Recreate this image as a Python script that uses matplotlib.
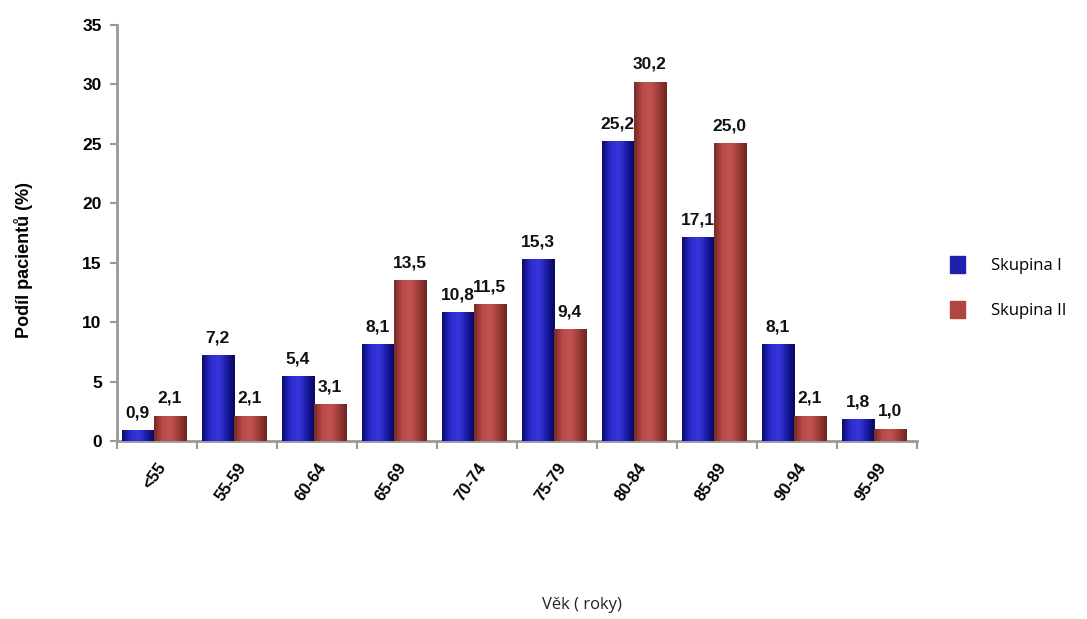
import numpy as np
import matplotlib
matplotlib.use("Agg")
import matplotlib.pyplot as plt
from matplotlib.colors import LinearSegmentedColormap

categories = ["<55", "55-59", "60-64", "65-69", "70-74", "75-79", "80-84", "85-89", "90-94", "95-99"]
skupina_1 = [0.9, 7.2, 5.4, 8.1, 10.8, 15.3, 25.2, 17.1, 8.1, 1.8]
skupina_2 = [2.1, 2.1, 3.1, 13.5, 11.5, 9.4, 30.2, 25.0, 2.1, 1.0]
series_names = ["Skupina I", "Skupina II"]
y_ticks = [0, 5, 10, 15, 20, 25, 30, 35]

bold_font = "Liberation Sans"

fig = plt.figure(figsize=(10.87, 6.19), dpi=100)
ax = fig.add_axes([0.1076, 0.2876, 0.736, 0.672])

blue_cmap = LinearSegmentedColormap.from_list("b", ["#0b0b70", "#2a2acc", "#3636dc", "#1c1ca6", "#08085e"])
red_cmap = LinearSegmentedColormap.from_list("r", ["#7a2826", "#b84a47", "#c4524f", "#a03d3a", "#6e2422"])

x = np.arange(len(categories))
w = 0.4
off = -0.04
bars1 = ax.bar(x - w / 2 + off, skupina_1, width=w, color="#2222bb", label=series_names[0], zorder=2)
bars2 = ax.bar(x + w / 2 + off, skupina_2, width=w, color="#b84a47", label=series_names[1], zorder=2)

# horizontal shading across each bar
grad = np.linspace(0, 1, 64).reshape(1, -1)
for bars, cmap in ((bars1, blue_cmap), (bars2, red_cmap)):
    for b in bars:
        x0, y0 = b.get_x(), b.get_y()
        ax.imshow(grad, cmap=cmap, aspect="auto", zorder=3,
                  extent=(x0, x0 + b.get_width(), y0, y0 + b.get_height()))

for bars, vals in ((bars1, skupina_1), (bars2, skupina_2)):
    for b, v in zip(bars, vals):
        ax.text(b.get_x() + b.get_width() / 2, v + 0.85, f"{v:.1f}".replace(".", ","),
                ha="center", va="bottom", fontsize=12.5, fontweight="bold",
                family=bold_font, color="#111111", zorder=4)

ax.set_xlim(-0.5, len(categories) - 0.5)
ax.set_ylim(0, 35)
ax.set_yticks(y_ticks)
ax.set_yticklabels([str(t) for t in y_ticks], fontsize=12.5, fontweight="bold", family=bold_font)

ax.set_xticks(np.arange(len(categories) + 1) - 0.5)
ax.set_xticklabels([])
ax.set_xticks(x, minor=True)
ax.set_xticklabels(categories, minor=True, rotation=55, ha="right", va="top",
                   rotation_mode="anchor", fontsize=12, fontweight="bold", family=bold_font)
ax.tick_params(axis="x", which="minor", length=0, pad=14)
ax.tick_params(axis="x", which="major", length=6, color="#999999", width=1.5)
ax.tick_params(axis="y", length=5, color="#999999", width=1.5, pad=6)

for s in ("top", "right"):
    ax.spines[s].set_visible(False)
for s in ("left", "bottom"):
    ax.spines[s].set_color("#999999")
    ax.spines[s].set_linewidth(2)

fig.text(0.022, 0.58, "Podíl pacientů (%)", rotation=90, ha="center", va="center",
         fontsize=13, fontweight="bold", family="Liberation Sans")
fig.text(0.535, 0.022, "Věk ( roky)", ha="center", va="center", fontsize=12,
         family="Open Sans", color="#222222")

handles = [plt.Rectangle((0, 0), 1, 1, color="#2020b0"), plt.Rectangle((0, 0), 1, 1, color="#b04542")]
fig.legend(handles, series_names, loc="center left", bbox_to_anchor=(0.86, 0.536),
           frameon=False, handlelength=0.9, handleheight=1.2,
           labelspacing=1.6, handletextpad=1.6, prop={"family": "Open Sans", "size": 12})

fig.savefig("out.png", dpi=100, facecolor="white")
